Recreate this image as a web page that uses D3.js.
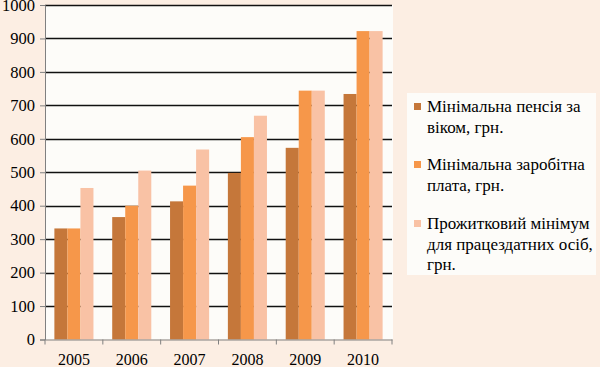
<!DOCTYPE html>
<html><head><meta charset="utf-8">
<script src="https://cdn.jsdelivr.net/npm/d3@7"></script>
<style>body{margin:0;background:#FCEEE3;}svg{display:block;}</style>
</head><body>
<script>
const years = ["2005","2006","2007","2008","2009","2010"];
const pension = [332, 366, 413, 498, 573, 734];
const wage = [332, 400, 460, 605, 744, 922];
const subsistence = [453, 505, 568, 669, 744, 922];
const seriesNames = [["Мінімальна пенсія за","віком, грн."],["Мінімальна заробітна","плата, грн."],["Прожитковий мінімум","для працездатних осіб,","грн."]];
const colors = ["#C5773A","#F6974A","#F9C2A5"];
const yTicks = [0,100,200,300,400,500,600,700,800,900,1000];

const W=600,H=367;
const svg=d3.select("body").append("svg").attr("width",W).attr("height",H);
svg.append("rect").attr("width",W).attr("height",H).attr("fill","#FCEEE3");
const L=45,R=392,T=5,B=339.5;
svg.append("rect").attr("x",L).attr("y",T).attr("width",R-L+1).attr("height",B-T).attr("fill","#FDFCF9");
const x=d3.scaleBand().domain(years).range([L,R]);
const y=d3.scaleLinear().domain([0,1000]).range([B,T]);
const font="Liberation Serif";

// gridlines
svg.append("g").selectAll("line").data(yTicks.filter(d=>d>0)).join("line")
 .attr("x1",L).attr("x2",R).attr("y1",d=>Math.round(y(d))+0.5).attr("y2",d=>Math.round(y(d))+0.5)
 .attr("stroke","#111").attr("stroke-width",1.5);

const series=[pension,wage,subsistence];
const inner=d3.scaleBand().domain([0,1,2]).range([0,x.bandwidth()]).paddingOuter(0.72).paddingInner(0);
series.forEach((vals,si)=>{
  svg.append("g").selectAll("rect").data(vals).join("rect")
   .attr("x",(d,i)=>x(years[i])+inner(si)).attr("width",inner.bandwidth())
   .attr("y",d=>y(d)).attr("height",d=>B-y(d)).attr("fill",colors[si]);
});

// axes
const ya=svg.append("g").attr("transform",`translate(${L},0)`)
 .call(d3.axisLeft(y).tickValues(yTicks).tickFormat(d3.format("d")).tickSize(5).tickPadding(5));
ya.attr("font-family",font).attr("font-size",16.5);
ya.select(".domain").attr("stroke","#808080");
ya.selectAll(".tick line").attr("stroke","#808080");
ya.selectAll("text").attr("fill","#000");
const xa=svg.append("g").attr("transform",`translate(0,${B})`)
 .call(d3.axisBottom(x).tickSize(0).tickPadding(14));
xa.attr("font-family",font).attr("font-size",16);
xa.select(".domain").attr("stroke","#808080");
xa.selectAll("text").attr("fill","#000");
svg.append("g").selectAll("line").data(years.concat(["end"])).join("line")
 .attr("x1",(d,i)=>i<years.length?x(d):R).attr("x2",(d,i)=>i<years.length?x(d):R)
 .attr("y1",B).attr("y2",B+5).attr("stroke","#808080");

// legend
svg.append("rect").attr("x",407).attr("y",93).attr("width",189).attr("height",182).attr("fill","#FDFCF9");
const legendY=[106,164,223];
seriesNames.forEach((lines,si)=>{
  svg.append("rect").attr("x",414).attr("y",legendY[si]-3).attr("width",7).attr("height",7).attr("fill",colors[si]);
  const t=svg.append("text").attr("font-family",font).attr("font-size",17).attr("fill","#000");
  lines.forEach((ln,li)=>t.append("tspan").attr("x",427).attr("y",legendY[si]+li*20.5+6).text(ln));
});
</script>
</body></html>
